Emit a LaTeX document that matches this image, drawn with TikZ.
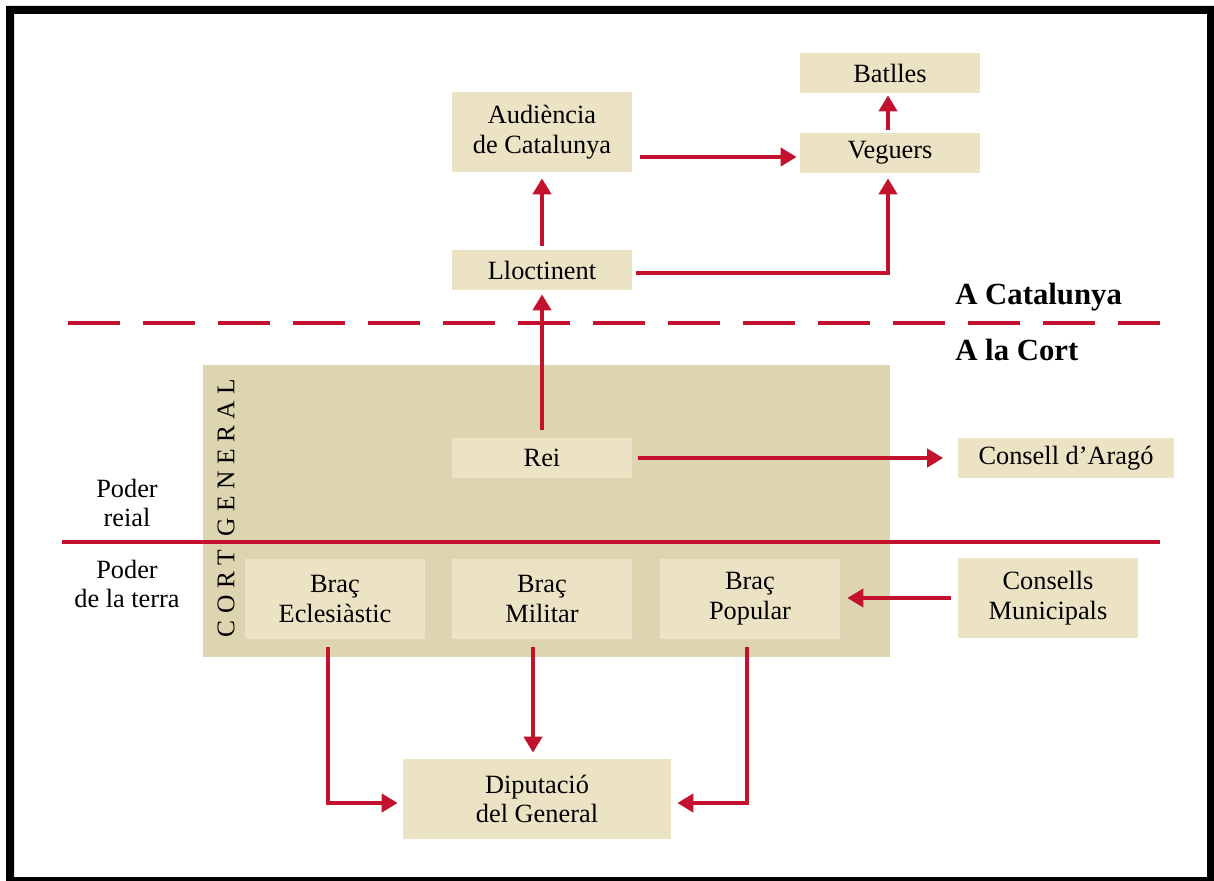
\documentclass[tikz,border=0pt]{standalone}
\usepackage{fontspec}
\setmainfont{Liberation Serif}
\usetikzlibrary{arrows.meta}
\definecolor{redc}{HTML}{C2122E}
\definecolor{boxc}{HTML}{EBE3C3}
\definecolor{bigc}{HTML}{DDD5B0}
\newcommand{\cgsp}{\kern0.13cm}
\tikzset{
  px/.style={x=0.02cm,y=-0.02cm},
  box/.style={fill=boxc, inner sep=0pt, align=center, font=\fontsize{15}{17}\selectfont, minimum width=3.6cm, minimum height=0.8cm},
  tall/.style={minimum height=1.6cm},
  arr/.style={draw=redc, line width=0.08cm, -{Triangle[length=0.32cm,width=0.36cm]}},
  sideLabel/.style={align=center, font=\fontsize{15}{17}\selectfont},
  regionLabel/.style={anchor=west, inner sep=0pt, font=\fontsize{17.5}{20}\selectfont\bfseries}
}
\begin{document}
\begin{tikzpicture}[px]
\useasboundingbox (0,0) rectangle (1214,881);
\fill[black, even odd rule] (6,6) rectangle (1214,881) (14,14) rectangle (1207,877);
% big Cort General rectangle
\fill[bigc] (203,365) rectangle (890,657);
\node[rotate=90, inner sep=0pt, font=\fontsize{14.5}{16}\selectfont] (cg) at (226,508) {C\cgsp O\cgsp R\cgsp T\cgsp\ G\cgsp E\cgsp N\cgsp E\cgsp R\cgsp A\cgsp L};
% boxes
\node[box] (bat) at (890,73) {Batlles};
\node[box,tall] (aud) at (542,132) {Audiència\\de Catalunya};
\node[box] (veg) at (890,153) {Veguers};
\node[box] (lloc) at (542,270) {Lloctinent};
\node[box] (rei) at (542,458) {Rei};
\node[box, minimum width=4.34cm] (cara) at (1066,458) {Consell d’Aragó};
\node[box,tall] (ecl) at (335,599) {Braç\\Eclesiàstic};
\node[box,tall] (mil) at (542,599) {Braç\\Militar};
\node[box,tall] (pop) at (750,599) {Braç\\Popular};
\node[box,tall] (cmun) at (1048,598) {Consells\\Municipals};
\node[box,tall, minimum width=5.36cm] (dip) at (537,799) {Diputació\\del General};
% labels
\node[sideLabel] (preial) at (127,503) {Poder\\reial};
\node[sideLabel] (pterra) at (127,584) {Poder\\de la terra};
\node[regionLabel] (acat) at (955,297) {A Catalunya};
\node[regionLabel] (acort) at (955,350) {A la Cort};
% separator lines
\coordinate (dl) at (68,323);
\coordinate (dr) at (1160,323);
\draw[redc, line width=0.08cm, dash pattern=on 1.04cm off 0.46cm] (dl) -- (dr);
\coordinate (sl) at (62,542);
\coordinate (sr) at (1160,542);
\draw[redc, line width=0.08cm] (sl) -- (sr);
% arrows
\draw[arr, shorten <=0.08cm, shorten >=0.12cm] (lloc.north) -- (aud.south);
\draw[arr, shorten <=0.16cm, shorten >=0.06cm] ([yshift=-0.08cm]aud.east |- veg.west) -- ([yshift=-0.08cm]veg.west);
\draw[arr, shorten <=0.08cm, shorten >=0.1cm] ([yshift=-0.06cm]lloc.east) -| ([xshift=-0.04cm]veg.south);
\draw[arr, shorten <=0.06cm, shorten >=0.04cm] ([xshift=-0.04cm]veg.north) -- ([xshift=-0.04cm]bat.south);
\draw[arr, shorten <=0.16cm, shorten >=0.08cm] (rei.north) -- (lloc.south);
\draw[arr, shorten <=0.12cm, shorten >=0.28cm] (rei.east) -- (cara.west);
\draw[arr, shorten <=0.14cm, shorten >=0.14cm] (cmun.west) -- (cmun.west -| pop.east);
\draw[arr, shorten <=0.16cm, shorten >=0.1cm] ([xshift=-0.14cm]ecl.south) |- ([yshift=-0.08cm]dip.west);
\draw[arr, shorten <=0.16cm, shorten >=0.12cm] ([xshift=-0.18cm]mil.south) -- ([xshift=-0.18cm]mil.south |- dip.north);
\draw[arr, shorten <=0.16cm, shorten >=0.12cm] ([xshift=-0.06cm]pop.south) |- ([yshift=-0.08cm]dip.east);
\end{tikzpicture}
\end{document}
